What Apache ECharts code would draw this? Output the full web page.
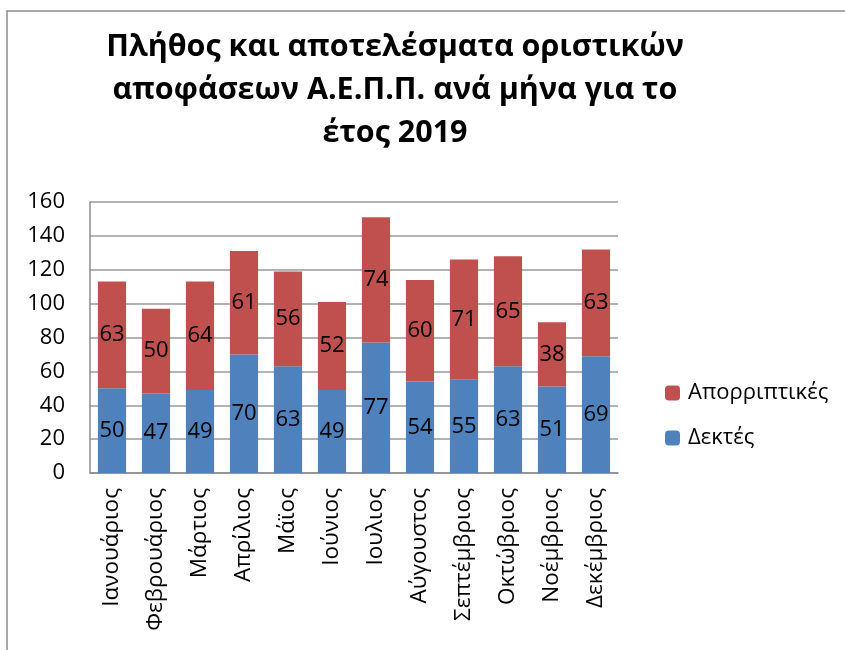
<!DOCTYPE html>
<html><head><meta charset="utf-8">
<script src="https://cdn.jsdelivr.net/npm/echarts@6/dist/echarts.min.js"></script>
<style>html,body{margin:0;padding:0;background:#fff}#c{width:845px;height:650px}</style>
</head><body><div id="c"></div>
<script>
const months = ['Ιανουάριος','Φεβρουάριος','Μάρτιος','Απρίλιος','Μάϊος','Ιούνιος','Ιουλιος','Αύγουστος','Σεπτέμβριος','Οκτώβριος','Νοέμβριος','Δεκέμβριος'];
const accepted = [50,47,49,70,63,49,77,54,55,63,51,69];
const rejected = [63,50,64,61,56,52,74,60,71,65,38,63];
const yTicks = {min:0, max:160, interval:20};
const titleText = 'Πλήθος και αποτελέσματα οριστικών\nαποφάσεων Α.Ε.Π.Π. ανά μήνα για το\nέτος 2019';
const FONT = '"Open Sans", sans-serif';
const chart = echarts.init(document.getElementById('c'));
const lbl = {show:true, position:'inside', color:'#000', fontSize:22, fontFamily:FONT};
chart.setOption({
  animation:false,
  title:{text:titleText, left:390, textAlign:'center', top:21,
    textStyle:{fontSize:30.5, fontWeight:'bold', fontFamily:FONT, color:'#000', lineHeight:43}},
  graphic:[{type:'rect', shape:{x:7,y:11,width:840,height:650}, style:{fill:null, stroke:'#8c8c8c', lineWidth:1.5}, silent:true}],
  legend:{orient:'vertical', left:660, top:377, itemWidth:15, itemHeight:15, itemGap:23,
    data:['Απορριπτικές','Δεκτές'],
    textStyle:{fontSize:22, fontFamily:FONT, color:'#000', padding:[0,0,0,3]}},
  grid:{left:90, right:227, top:202, bottom:177, containLabel:false},
  xAxis:{type:'category', data:months,
    axisLine:{lineStyle:{color:'#8c8c8c', width:1.5}}, axisTick:{show:false},
    axisLabel:{rotate:90, fontSize:22.5, fontFamily:FONT, color:'#000', margin:15}},
  yAxis:{type:'value', min:yTicks.min, max:yTicks.max, interval:yTicks.interval,
    axisLine:{show:true, lineStyle:{color:'#8c8c8c', width:1.5}}, axisTick:{show:false},
    splitLine:{lineStyle:{color:'#9a9a9a', width:1.5}},
    axisLabel:{fontSize:22, fontFamily:FONT, color:'#000', margin:25}},
  series:[
    {name:'Δεκτές', type:'bar', stack:'a', data:accepted, barCategoryGap:'36%',
      itemStyle:{color:'#4f81bd'}, label:lbl},
    {name:'Απορριπτικές', type:'bar', stack:'a', data:rejected,
      itemStyle:{color:'#c0504d'}, label:lbl}
  ]
});
</script></body></html>
